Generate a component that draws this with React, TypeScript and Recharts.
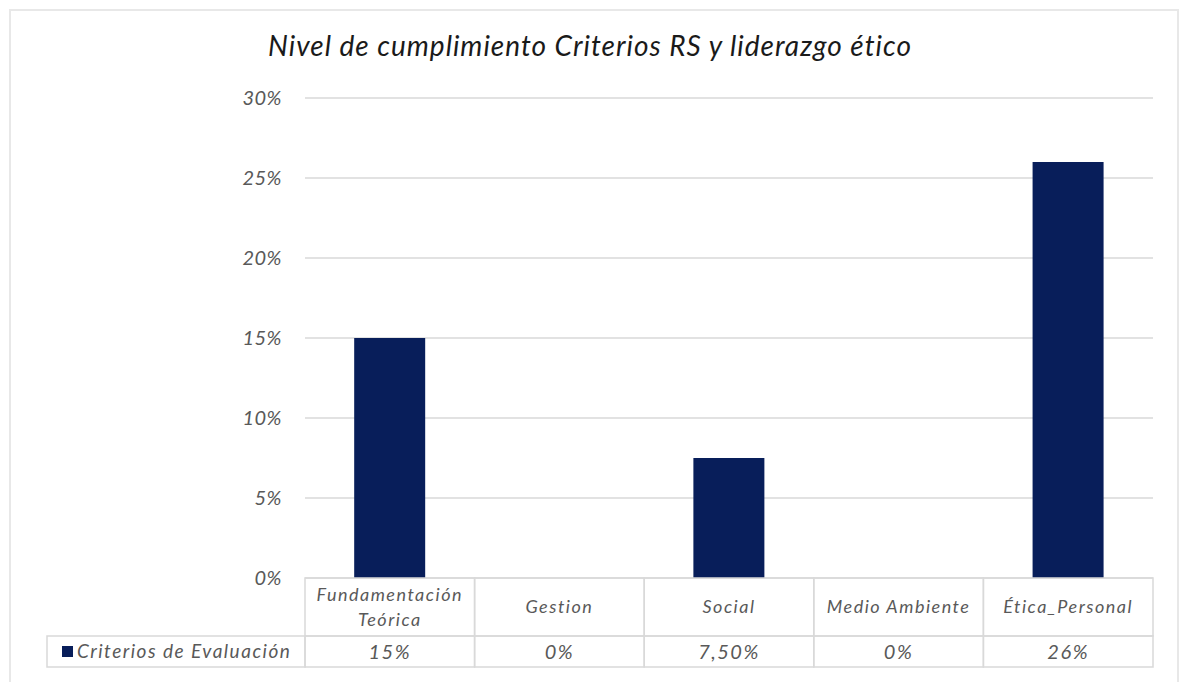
import { BarChart, Bar, XAxis, YAxis, CartesianGrid } from "recharts";

const categories = ["Fundamentación\nTeórica", "Gestion", "Social", "Medio Ambiente", "Ética_Personal"];
const values = [15, 0, 7.5, 0, 26];
const valueLabels = ["15%", "0%", "7,50%", "0%", "26%"];
const yTicks = [0, 5, 10, 15, 20, 25, 30];
const seriesName = "Criterios de Evaluación";
const title = "Nivel de cumplimiento Criterios RS y liderazgo ético";

const data = categories.map((c, i) => ({ cat: c, v: values[i], label: valueLabels[i] }));

const W = 1180;
const H = 682;
const M = { top: 98, right: 27, bottom: 0, left: 0 };
const Y_W = 305;
const X_H = 104;
const PLOT_W = W - M.left - M.right - Y_W;
const COL_W = PLOT_W / categories.length;
const ROW1 = 58;
const ROW2 = 31;
const BORDER = "#d9d9d9";
const NAVY = "#081e5a";
const FONT = "Lato, 'Open Sans', sans-serif";

function YTick(props: any) {
  const { y, payload } = props;
  return (
    <text x={Y_W - 23} y={y} dy={7} textAnchor="end" fontSize={20} fontStyle="italic" fill="#595959" fontFamily={FONT} letterSpacing={0.5}>
      {payload.value}%
    </text>
  );
}

function CatTick(props: any) {
  const { x, y, payload, index } = props;
  const half = COL_W / 2;
  const lines = String(payload.value).split("\n");
  const row = data[index];
  return (
    <g>
      <rect x={x - half} y={y} width={COL_W} height={ROW1} fill="none" stroke={BORDER} strokeWidth={1.5} />
      <rect x={x - half} y={y + ROW1} width={COL_W} height={ROW2} fill="none" stroke={BORDER} strokeWidth={1.5} />
      {lines.map((l, i) => (
        <text
          key={i}
          x={x}
          y={y + ROW1 / 2 + (i - (lines.length - 1) / 2) * 25}
          dy={6}
          textAnchor="middle"
          fontSize={18}
          fontStyle="italic"
          fill="#595959"
          fontFamily={FONT}
          letterSpacing={1.5}
        >
          {l}
        </text>
      ))}
      <text x={x} y={y + ROW1 + ROW2 / 2} dy={7} textAnchor="middle" fontSize={20} fontStyle="italic" fill="#595959" fontFamily={FONT} letterSpacing={1.5}>
        {row ? row.label : ""}
      </text>
      {index === 0 ? (
        <g>
          <rect x={47} y={y + ROW1} width={x - half - 47} height={ROW2} fill="none" stroke={BORDER} strokeWidth={1.5} />
          <rect x={62} y={y + ROW1 + 10} width={11} height={11} fill={NAVY} />
          <text x={77} y={y + ROW1 + ROW2 / 2} dy={6} fontSize={19} fontStyle="italic" fill="#595959" fontFamily={FONT} letterSpacing={1.5}>
            {seriesName}
          </text>
        </g>
      ) : null}
    </g>
  );
}

export default function App() {
  return (
    <div style={{ position: "absolute", left: 0, top: 0, width: W, height: H, background: "#fff", overflow: "hidden" }}>
      <div
        style={{
          position: "absolute",
          left: 9,
          top: 9,
          width: 1166,
          height: 700,
          border: "2px solid #e8e8e8",
        }}
      />
      <div
        style={{
          position: "absolute",
          left: 0,
          top: 28,
          width: W,
          textAlign: "center",
          fontFamily: FONT,
          fontStyle: "italic",
          fontSize: 28,
          letterSpacing: 1,
          color: "#1a1a1a",
        }}
      >
        {title}
      </div>
      <div style={{ position: "absolute", left: 0, top: 0 }}>
        <BarChart width={W} height={H} data={data} margin={M} barCategoryGap="29%">
          <CartesianGrid vertical={false} stroke={BORDER} strokeWidth={1.5} />
          <YAxis
            width={Y_W}
            domain={[0, 30]}
            ticks={yTicks}
            axisLine={false}
            tickLine={false}
            tick={<YTick />}
            interval={0}
          />
          <XAxis
            dataKey="cat"
            height={X_H}
            axisLine={false}
            tickLine={false}
            tickSize={0}
            tickMargin={0}
            interval={0}
            tick={<CatTick />}
          />
          <Bar dataKey="v" name={seriesName} fill={NAVY} isAnimationActive={false} />
        </BarChart>
      </div>
    </div>
  );
}
